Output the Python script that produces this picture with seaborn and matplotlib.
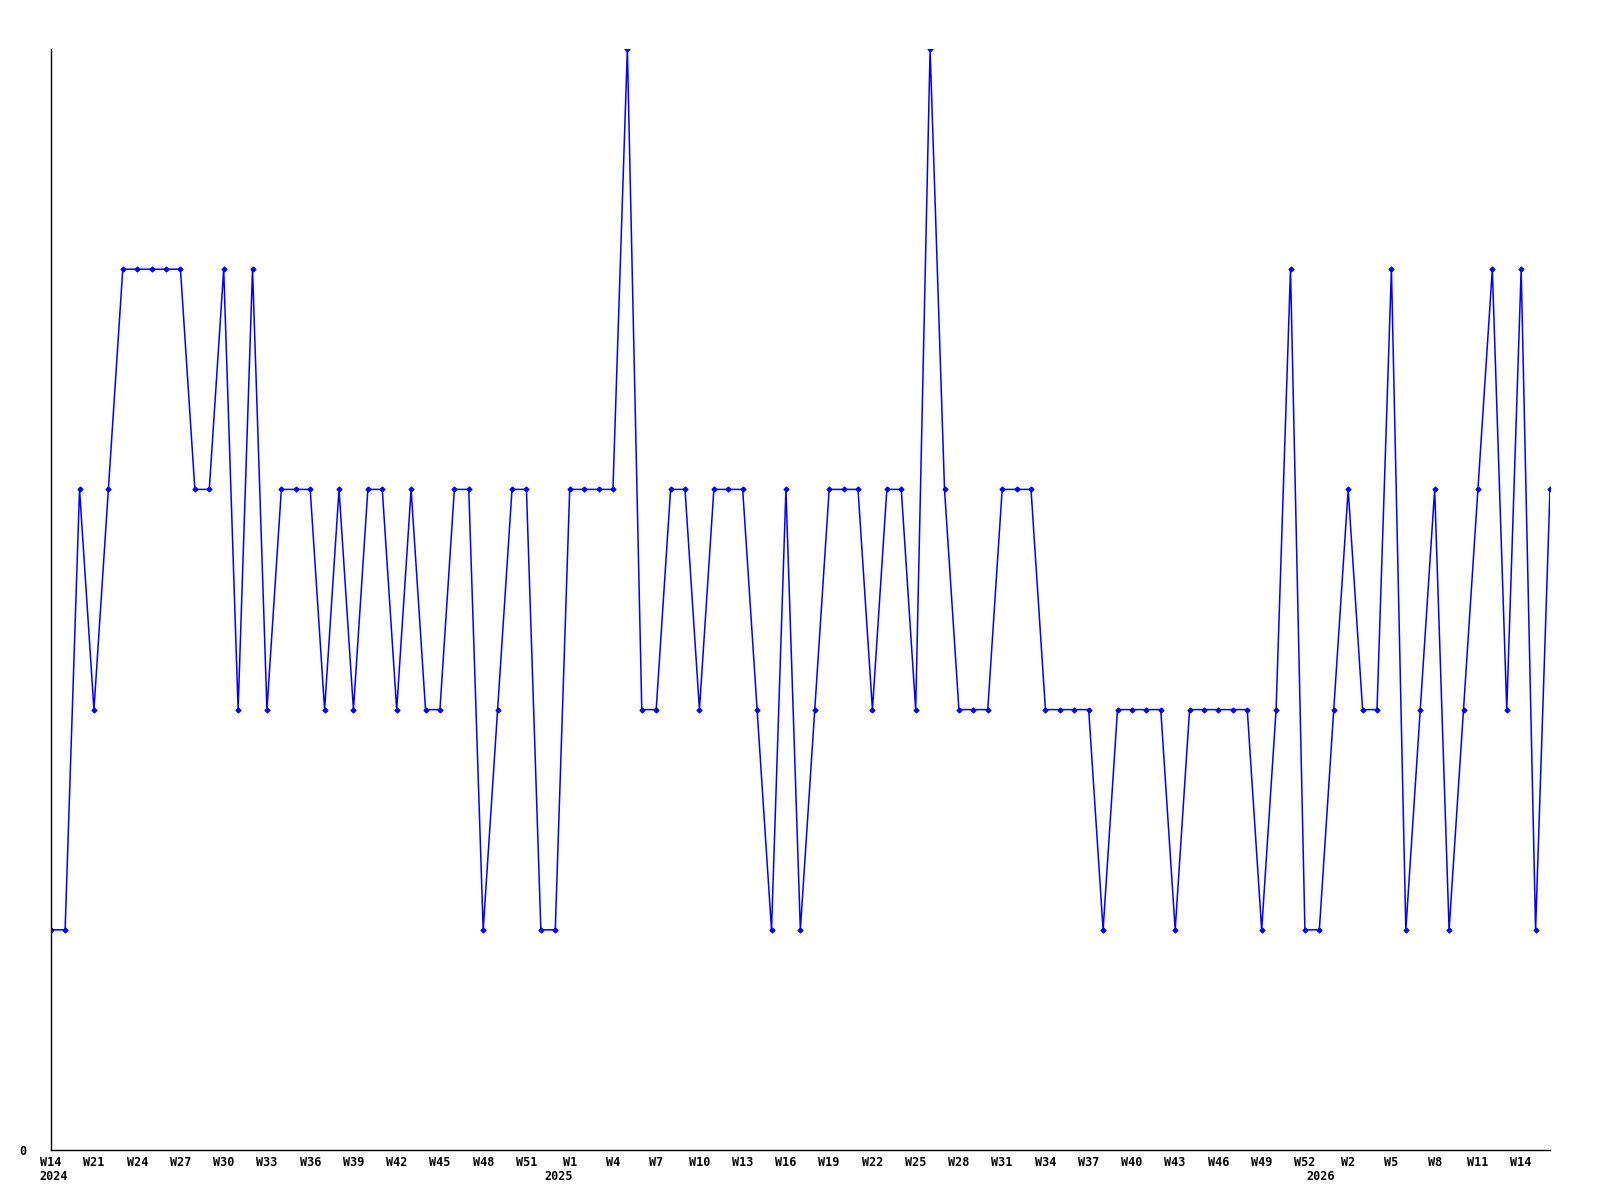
import matplotlib
matplotlib.use("Agg")
import matplotlib.pyplot as plt
import matplotlib.transforms as mtransforms
import seaborn as sns
import pandas as pd

# ---- data ----
values = [1, 1, 3, 2, 3, 4, 4, 4, 4, 4,
          3, 3, 4, 2, 4, 2, 3, 3, 3, 2,
          3, 2, 3, 3, 2, 3, 2, 2, 3, 3,
          1, 2, 3, 3, 1, 1, 3, 3, 3, 3,
          5, 2, 2, 3, 3, 2, 3, 3, 3, 2,
          1, 3, 1, 2, 3, 3, 3, 2, 3, 3,
          2, 5, 3, 2, 2, 2, 3, 3, 3, 2,
          2, 2, 2, 1, 2, 2, 2, 2, 1, 2,
          2, 2, 2, 2, 1, 2, 4, 1, 1, 2,
          3, 2, 2, 4, 1, 2, 3, 1, 2, 3,
          4, 2, 4, 1, 3]
tick_labels = ["W14", "W21", "W24", "W27", "W30", "W33", "W36", "W39", "W42",
               "W45", "W48", "W51", "W1", "W4", "W7", "W10", "W13", "W16",
               "W19", "W22", "W25", "W28", "W31", "W34", "W37", "W40", "W43",
               "W46", "W49", "W52", "W2", "W5", "W8", "W11", "W14"]
year_labels = ["2024", "2025", "2026"]
year_index = [0.2, 35.2, 88.1]

df = pd.DataFrame({"x": range(len(values)), "y": values})

sns.set_theme(style="white")
plt.rcParams["font.family"] = ["DejaVu Sans Mono", "DejaVu Sans"]

fig = plt.figure(figsize=(16, 12), dpi=100)
ax = fig.add_axes([50.7 / 1600, 1 - 1150 / 1200, (1550 - 50.7) / 1600, (1150 - 49) / 1200])

sns.lineplot(data=df, x="x", y="y", ax=ax, color="#0000ff", linewidth=1.1,
             marker="D", markersize=2.6, markeredgewidth=0.8,
             markeredgecolor="#0000ff", markerfacecolor="#0000ff")

ax.set_xlim(0, len(values) - 1)
ax.set_ylim(0, 5)
ax.set_xlabel("")
ax.set_ylabel("")

for s in ["top", "right"]:
    ax.spines[s].set_visible(False)
for s in ["left", "bottom"]:
    ax.spines[s].set_color("black")
    ax.spines[s].set_linewidth(1.0)

ax.set_xticks(list(range(0, len(values), 3)))
ax.set_xticklabels(tick_labels, fontsize=8.5, fontweight="bold", color="black")
ax.set_yticks([0])
ax.set_yticklabels(["0"], fontsize=8.5, fontweight="bold", color="black")
ax.tick_params(axis="x", length=0, pad=4.5)
ax.tick_params(axis="y", length=0, pad=17.5)
ax.grid(False)

trans = mtransforms.blended_transform_factory(ax.transData, ax.transAxes)
for lbl, xi in zip(year_labels, year_index):
    ax.text(xi, -0.024, lbl, transform=trans, ha="center", va="center",
            fontsize=8.5, fontweight="bold", color="black")

fig.savefig("out.png", dpi=100, facecolor="white")
